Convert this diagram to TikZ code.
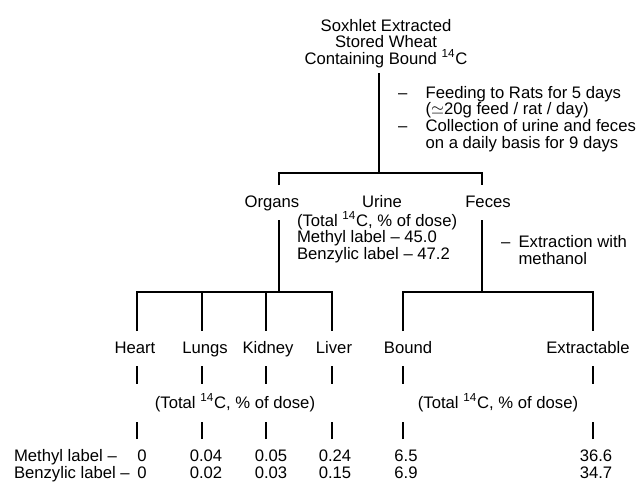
\documentclass[tikz,border=0pt]{standalone}
\usepackage{fontspec}
\setmainfont{Liberation Sans}
\usepackage{amsmath}
\usepackage{amssymb}
\usepackage{tikz}
\tikzstyle{texto}=[inner sep=0pt,anchor=base]
\tikzstyle{ramo}=[inner xsep=1pt,inner ysep=5.4pt,text height=7.2pt,text depth=2pt,anchor=base]
\newcommand{\carbono}{\textsuperscript{14}C}

\begin{document}
\begin{tikzpicture}[x=0.6pt,y=-0.6pt,very thick,font=\fontsize{10}{10}\selectfont]
    \useasboundingbox (0,0) rectangle (639,484);
    % trigo e alimentacao
    \node [texto,align=center,font=\fontsize{10}{9.9}\selectfont] (trigo) at (386,64) {Soxhlet Extracted\\Stored Wheat\\Containing Bound \carbono};
    \node [texto,anchor=base west,font=\fontsize{10}{9.6}\selectfont] (racao) at (397,98)
        {\begin{tabular}[t]{@{}l@{\hspace{11pt}}l@{}}
         --&Feeding to Rats for 5 days\\
           &($\simeq$20g feed / rat / day)\\
         --&Collection of urine and feces\\
           &on a daily basis for 9 days
         \end{tabular}};
    \coordinate (topo) at (379,73);
    \coordinate (garfo) at (379,173);
    \coordinate (gorg) at (279,292);
    \coordinate (gfez) at (482,292);
    % orgaos, urina, fezes
    \node [ramo] (orgaos) at (272,207) {Organs};
    \node [ramo] (urina) at (382,207) {Urine};
    \node [ramo] (fezes) at (488,207) {Feces};
    \node [texto,anchor=base west,align=left,font=\fontsize{10}{9.9}\selectfont] (dadosurina) at (296,259)
        {(Total \carbono, \% of dose)\\Methyl label -- 45.0\\Benzylic label -- 47.2};
    \node [texto,anchor=base west,font=\fontsize{10}{10.5}\selectfont] (extracao) at (500,247)
        {\begin{tabular}[t]{@{}l@{\hspace{5pt}}l@{}}
         --&Extraction with\\
           &methanol
         \end{tabular}};
    \draw (topo) -- (garfo);
    \draw (orgaos.north -| gorg) |- (garfo) -| (fezes.north -| gfez);
    \draw (orgaos.south -| gorg) -- (gorg);
    \draw (fezes.south -| gfez) -- (gfez);
    % colunas
    \coordinate (c1) at (137,292);
    \coordinate (c2) at (202,292);
    \coordinate (c3) at (266,292);
    \coordinate (c4) at (332,292);
    \coordinate (c5) at (403,292);
    \coordinate (c6) at (593,292);
    \node [ramo] (coracao) at (135,353) {Heart};
    \node [ramo] (pulmoes) at (205,353) {Lungs};
    \node [ramo] (rim) at (268,353) {Kidney};
    \node [ramo] (figado) at (334,353) {Liver};
    \node [ramo] (ligado) at (408,353) {Bound};
    \node [ramo] (extraivel) at (588,353) {Extractable};
    \draw (c1 |- coracao.north) -- (c1) -- (c4) -- (c4 |- figado.north);
    \draw (c2) -- (c2 |- pulmoes.north);
    \draw (c3) -- (c3 |- rim.north);
    \draw (c5 |- ligado.north) -- (c5) -- (c6) -- (c6 |- extraivel.north);
    \node [texto] (total1) at (235,408) {(Total \carbono, \% of dose)};
    \node [texto] (total2) at (498,408) {(Total \carbono, \% of dose)};
    % valores
    \node [texto,anchor=base west] (lmetil) at (13,461) {Methyl label --};
    \node [texto,anchor=base west] (lbenz) at (13,478) {Benzylic label --};
    \node [ramo] (m1) at (142,461) {0};
    \node [ramo] (m2) at (206,461) {0.04};
    \node [ramo] (m3) at (271,461) {0.05};
    \node [ramo] (m4) at (335,461) {0.24};
    \node [ramo] (m5) at (406,461) {6.5};
    \node [ramo] (m6) at (596,461) {36.6};
    \node [texto] (b1) at (142,478) {0};
    \node [texto] (b2) at (206,478) {0.02};
    \node [texto] (b3) at (271,478) {0.03};
    \node [texto] (b4) at (335,478) {0.15};
    \node [texto] (b5) at (406,478) {6.9};
    \node [texto] (b6) at (596,478) {34.7};
    \draw (c1 |- coracao.south) -- ++(0,18);  \draw (c1 |- m1.north) -- ++(0,-17);
    \draw (c2 |- pulmoes.south) -- ++(0,18);  \draw (c2 |- m2.north) -- ++(0,-17);
    \draw (c3 |- rim.south) -- ++(0,18);      \draw (c3 |- m3.north) -- ++(0,-17);
    \draw (c4 |- figado.south) -- ++(0,18);   \draw (c4 |- m4.north) -- ++(0,-17);
    \draw (c5 |- ligado.south) -- ++(0,18);   \draw (c5 |- m5.north) -- ++(0,-17);
    \draw (c6 |- extraivel.south) -- ++(0,18); \draw (c6 |- m6.north) -- ++(0,-17);
\end{tikzpicture}
\end{document}
